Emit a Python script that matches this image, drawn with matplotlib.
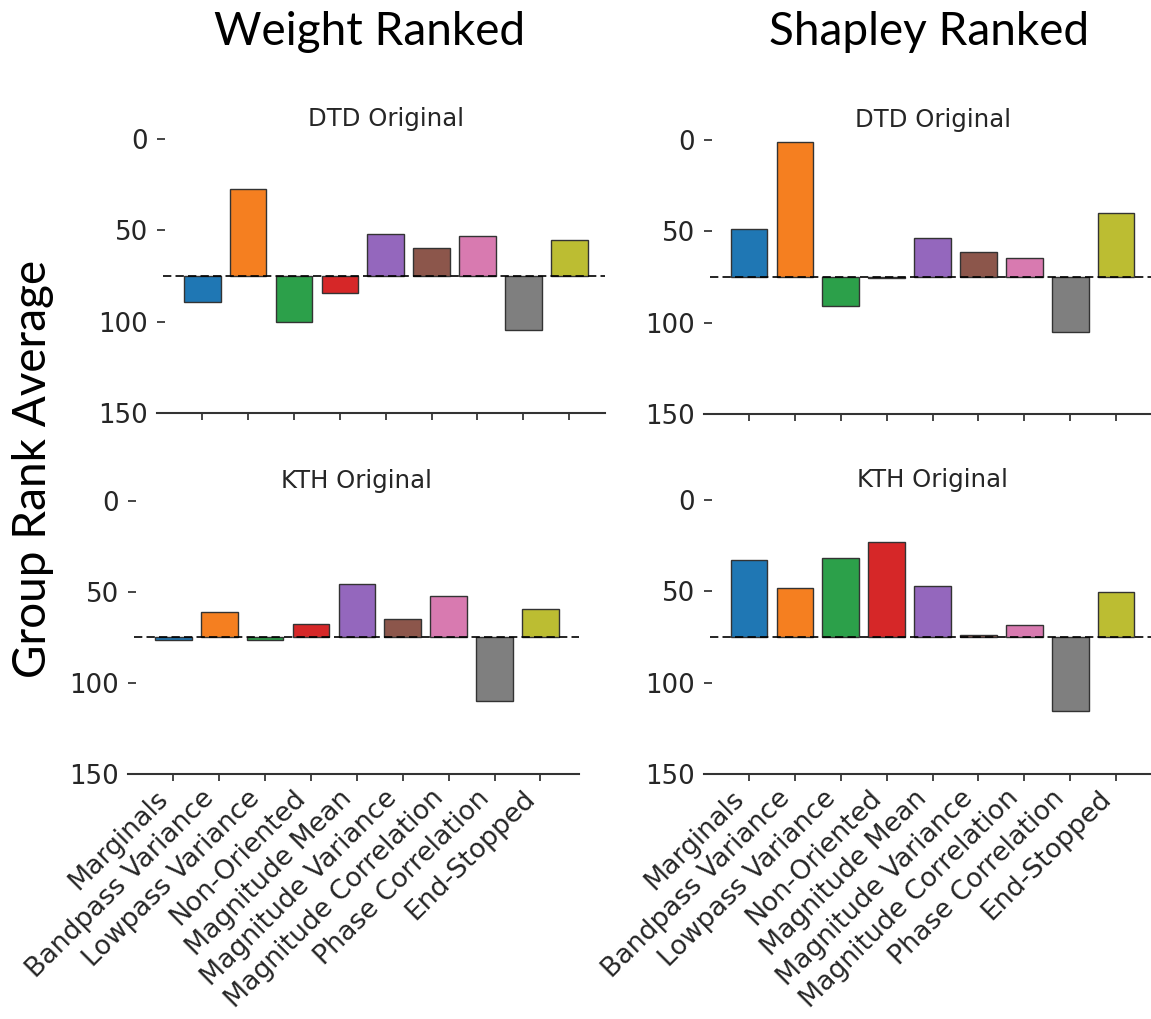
import numpy as np
import matplotlib.pyplot as plt

groups = ["Marginals", "Bandpass Variance", "Lowpass Variance", "Non-Oriented",
          "Magnitude Mean", "Magnitude Variance", "Magnitude Correlation",
          "Phase Correlation", "End-Stopped"]
colors = ["#1f77b4", "#f57f20", "#2ca04a", "#d62728", "#9467bd",
          "#8c564b", "#d87ab0", "#7f7f7f", "#bcbd32"]

baseline = 75

# group rank averages (lower = more important)
dtd_weight = [89.4, 27.4, 100.3, 84.1, 52.1, 59.4, 52.8, 104.4, 55.0]
kth_weight = [76.5, 61.2, 76.6, 67.6, 45.5, 65.1, 52.4, 110.0, 59.6]
dtd_shapley = [48.6, 1.3, 90.7, 75.8, 53.8, 61.5, 64.8, 105.3, 39.8]
kth_shapley = [32.9, 48.2, 32.0, 22.9, 47.1, 74.0, 68.4, 115.3, 50.2]

W, H = 1151, 1019
fig = plt.figure(figsize=(W / 100, H / 100), dpi=100)


def panel(left, right, top, bottom, values, title, xlim, show_labels):
    ax = fig.add_axes([left / W, 1 - bottom / H, (right - left) / W, (bottom - top) / H])
    x = np.arange(len(values))
    vals = np.array(values)
    ax.bar(x, vals - baseline, bottom=baseline, width=0.8, color=colors,
           edgecolor="#333333", linewidth=1.0, zorder=2)
    ax.plot([-0.86, 8.86], [baseline, baseline], color="k", ls=(0, (5, 2.5)),
            lw=1.2, zorder=3)
    ax.set_ylim(150, -2.5)
    ax.set_xlim(*xlim)
    ax.set_yticks([0, 50, 100, 150])
    ax.set_xticks(x)
    for s in ["top", "right", "left"]:
        ax.spines[s].set_visible(False)
    ax.spines["bottom"].set_linewidth(1.5)
    ax.spines["bottom"].set_color("#333333")
    ax.tick_params(axis="y", direction="in", length=6, width=1.2, pad=6.5,
                   labelsize=18.7, colors="#262626")
    ax.tick_params(axis="x", direction="out", length=5, width=1.2, pad=3,
                   labelsize=19.3, colors="#262626")
    if show_labels:
        ax.set_xticklabels(groups, rotation=45, ha="right")
    else:
        ax.set_xticklabels([])
    t = ax.set_title(title, fontsize=17.6, color="#262626", pad=6)
    t.set_x((4 - xlim[0]) / (xlim[1] - xlim[0]))
    return ax


panel(157.3, 605, 134.7, 412.7, dtd_weight, "DTD Original", (-0.98, 8.78), False)
panel(128.3, 579, 496.1, 774, kth_weight, "KTH Original", (-0.98, 8.84), True)
panel(704, 1151, 135.4, 414, dtd_shapley, "DTD Original", (-0.98, 8.76), False)
panel(704, 1151, 495.4, 774, kth_shapley, "KTH Original", (-0.98, 8.76), True)

fig.text(370 / W, 1 - 45 / H, "Weight Ranked", ha="center", va="baseline",
         fontsize=33, family="Lato")
fig.text(929 / W, 1 - 45 / H, "Shapley Ranked", ha="center", va="baseline",
         fontsize=33, family="Lato")
fig.text(33 / W, 1 - 469 / H, "Group Rank Average", ha="center", va="center",
         rotation=90, fontsize=33, family="Lato")

plt.savefig("out.png", dpi=100)
